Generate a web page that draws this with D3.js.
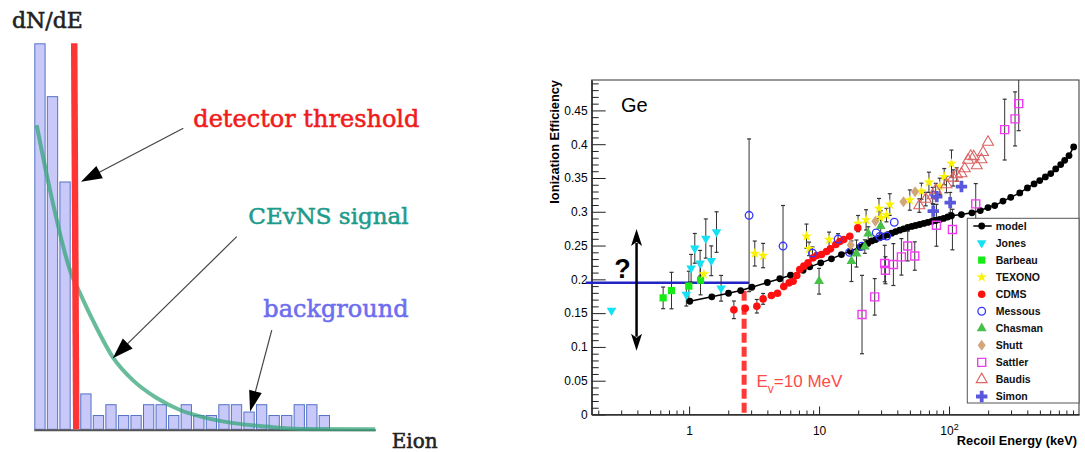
<!DOCTYPE html>
<html><head><meta charset="utf-8">
<script src="https://cdn.jsdelivr.net/npm/d3@7"></script>
<style>body{margin:0;background:#fff}svg{display:block}</style>
</head><body>
<svg id="c" width="1085" height="452"></svg>
<script>
// ================= LEFT PANEL DATA =================
const binStart = [0,1,2,3.66,4.66,5.66,6.66,7.66,8.66,9.66,10.66,11.66,12.66,13.66,14.66,15.66,16.66,17.66,18.66,19.66,20.66,21.66,22.66];
const binCounts = [100,86.3,64.2,9.3,3.7,6.5,3.7,3.7,6.5,6.5,3.7,6.5,3.7,3.7,6.5,6.5,4.6,6.5,3.7,3.7,6.5,6.5,3.7];
const binWidth = 0.9;
const threshold = 3.26;
const signalE = [0.19,1.25,2.92,3.64,4.70,6.29,7.89,9.75,11.61,13.74,15.86,18.52,21.18,27.16];
const signalV = [78.8,62.0,40.5,35.3,28.0,18.5,12.6,8.1,5.0,2.9,1.6,0.7,0.1,0];

// ================= RIGHT PANEL DATA =================
const yTickValues = [0,0.05,0.1,0.15,0.2,0.25,0.3,0.35,0.4,0.45];
const yTickLabels = ["0","0.05","0.1","0.15","0.2","0.25","0.3","0.35","0.4","0.45"];
const xTickValues = [1,10,100];
const xTickLabels = ["1","10","10"];
const legendNames = ["model","Jones","Barbeau","TEXONO","CDMS","Messous","Chasman","Shutt","Sattler","Baudis","Simon"];

const modelE = [1.012,1.495,2.01,2.49,3.04,4.0,4.99,6.03,7.53,8.48,10.3,12.45,14.86,17.4,20.6,22.1,23.7,25.4,27.3,29.3,31.5,33.8,36.2,38.9,41.8,44.8,48.1,51.7,55.4,59.5,63.9,68.6,73.6,79.0,84.8,91.0,97.7,104.4,124.5,150,174,199.5,224.7,260,298.5,350,401,451,498.6,551,606,662,723,776,838,910];
const modelEff = [0.1676,0.1741,0.1794,0.1834,0.1883,0.1953,0.2009,0.2061,0.2135,0.2185,0.2244,0.2303,0.2367,0.2416,0.2475,0.2496,0.2531,0.2568,0.2589,0.2614,0.2638,0.2660,0.2683,0.2707,0.2728,0.2747,0.2768,0.2783,0.2797,0.2812,0.2827,0.2842,0.2857,0.2871,0.2886,0.2901,0.2923,0.2941,0.2959,0.2985,0.3018,0.3062,0.3092,0.3158,0.3214,0.3279,0.3353,0.3412,0.3462,0.3516,0.3565,0.3634,0.3698,0.3762,0.3831,0.3959];

const jonesE = [0.253,0.952,1.036,1.106,1.215,1.344,1.48,1.625,1.762];
const jonesEff = [0.154,0.1775,0.2164,0.2459,0.2238,0.2604,0.2275,0.270,0.1868];
const jonesErr = [0,0.017,0.0205,0.022,0.019,0.029,0.022,0.030,0.019];

const barbE = [0.631,0.732,0.995,1.224];
const barbEff = [0.1726,0.1834,0.190,0.1987];
const barbErr = [0.016,0.027,0.022,0.0216];

const texE = [1.297,3.20,3.71,8.0,8.38,11.94,19.95,23.0,28.9,29.8,33.0,35.0,49.9,61.3,70.0,84.8,91.8,104.4];
const texEff = [0.2078,0.2382,0.2352,0.2638,0.2451,0.2589,0.2825,0.288,0.3047,0.2914,0.2951,0.3107,0.3173,0.3303,0.3436,0.3377,0.352,0.3713];
const texErr = [0,0.0185,0.018,0.018,0.01,0.011,0.012,0.015,0.015,0.01,0.01,0.016,0.015,0.012,0.015,0.012,0.012,0.02];

const cdmsE = [2.21,2.705,3.32,3.71,4.30,4.79,5.35,5.88,6.31,6.74,7.10,7.63,8.23,8.99,9.60,10.43,11.4,12.24,13.45,14.43,15.49,17.23,19.85];
const cdmsEff = [0.1549,0.1571,0.1602,0.1711,0.176,0.1795,0.1893,0.1948,0.1972,0.2056,0.2145,0.2195,0.2244,0.2318,0.2352,0.2367,0.2411,0.2451,0.2515,0.2559,0.2589,0.2638,0.2761];
const cdmsErr = [0.013,0,0.01,0.008,0,0,0,0,0,0,0,0,0,0,0,0,0,0,0,0,0,0,0];

const mesE = [2.894,5.28,8.9,14.0,17.16,21.3,27.5,29.3,33.2,37.9,77.6];
const mesEff = [0.2948,0.2493,0.2389,0.2596,0.2399,0.249,0.2688,0.2633,0.264,0.2845,0.3247];
const mesErr = [0.113,0.06,0.009,0.008,0,0,0,0,0,0,0];

const chaE = [10.0,17.75,19.4,22.5,23.9,29.8];
const chaEff = [0.1972,0.2268,0.2382,0.2485,0.2678,0.2786];
const chaErr = [0.019,0.03,0.02,0.01,0.01,0.01];

const shuE = [17.5,27.1,44.6,54.8];
const shuEff = [0.2507,0.286,0.3148,0.3296];
const shuErr = [0,0,0,0];

const satE = [21.4,26.8,32.0,32.4,37.3,43.0,48.1,54.5,80.0,106.2,160.5,268,322,343.6];
const satEff = [0.1479,0.1741,0.2234,0.2135,0.2219,0.2333,0.2493,0.2345,0.28,0.2737,0.3117,0.4216,0.4374,0.46];
const satErr = [0.058,0.027,0.027,0.02,0.031,0.027,0.022,0.021,0.031,0.03,0.03,0.045,0.04,0.04];

const bauE = [59.0,66.2,74.9,79.0,95.5,107.4,114.6,124.6,132.1,140.0,146.9,154.9,163.4,177.5,182.6,199.5];
const bauEff = [0.3092,0.3188,0.3240,0.3321,0.3402,0.3501,0.3550,0.3565,0.3639,0.3765,0.3824,0.3817,0.3683,0.3772,0.3880,0.4031];
const bauErr = [0.01,0.01,0.012,0.01,0.012,0.012,0.01,0,0,0,0,0,0,0,0,0];

const simE = [75.6,80.4,102.1,124.6];
const simEff = [0.301,0.3225,0.3136,0.3373];
const simErr = [0.01,0,0.015,0];

// ================= DRAWING =================
const svg = d3.select('#c');
const serif = "'DejaVu Serif', serif";
const sans = "'Liberation Sans', Arial, sans-serif";

function arrow(g,x1,y1,x2,y2,hl,hw,lw,lineCol,headCol,notch){
  const dx=x2-x1, dy=y2-y1, L=Math.hypot(dx,dy), ux=dx/L, uy=dy/L;
  const bx=x2-ux*hl, by=y2-uy*hl;
  g.append('line').attr('x1',x1).attr('y1',y1).attr('x2',bx+ux*3).attr('y2',by+uy*3)
    .attr('stroke',lineCol).attr('stroke-width',lw);
  const n = notch||0;
  g.append('path').attr('d',`M${x2},${y2}L${bx-uy*hw/2},${by+ux*hw/2}L${bx+ux*n},${by+uy*n}L${bx+uy*hw/2},${by-ux*hw/2}Z`)
    .attr('fill',headCol);
}

// ---------- LEFT ----------
const xL = d3.scaleLinear().domain([0,27.2]).range([34.3,375.7]);
const yL = d3.scaleLinear().domain([0,100]).range([429.3,43.3]);
const gl = svg.append('g');
gl.selectAll('rect.bin').data(d3.range(binStart.length)).join('rect').attr('class','bin')
  .attr('x',i=>xL(binStart[i])+0.5)
  .attr('y',i=>yL(binCounts[i])+0.5)
  .attr('width',xL(binWidth)-xL(0)-1)
  .attr('height',i=>yL(0)-yL(binCounts[i])-0.5)
  .attr('fill','#c8c8f9').attr('stroke','#5573c6').attr('stroke-width',1);
gl.append('line').attr('x1',xL(0)).attr('x2',xL(27.2)).attr('y1',yL(0)+1).attr('y2',yL(0)+1)
  .attr('stroke','#555').attr('stroke-width',2);
gl.append('path').datum(signalE.map((e,i)=>[e,signalV[i]]))
  .attr('d',d3.line().x(d=>xL(d[0])).y(d=>yL(d[1])).curve(d3.curveMonotoneX))
  .attr('fill','none').attr('stroke','#35a57a').attr('stroke-width',4).attr('stroke-opacity',0.75);
gl.append('line').attr('x1',xL(threshold)-1).attr('x2',xL(threshold)+1)
  .attr('y1',yL(100)).attr('y2',yL(0)).attr('stroke','#ff3535').attr('stroke-width',6.5);

arrow(gl,xL(11.87),yL(78.0),xL(3.72),yL(64.1),21,14,1.2,'#444','#000',0);
arrow(gl,xL(16.13),yL(49.9),xL(6.25),yL(18.4),21,14,1.2,'#444','#000',0);
arrow(gl,xL(18.92),yL(25.7),xL(17.19),yL(4.56),21,13,1.2,'#444','#000',0);

function stext(x,y,t,size,col){
  gl.append('text').attr('x',x).attr('y',y).text(t).attr('font-family',serif).attr('font-size',size)
    .attr('fill',col).attr('stroke',col).attr('stroke-width',0.55);
}
stext(12,28.3,'dN/dE',22,'#222');
stext(391.7,448,'Eion',20,'#222');
stext(193.3,127,'detector threshold',24,'#f01c1c');
stext(248.3,224,'CEvNS signal',23,'#1e9b8c');
stext(263.3,316.7,'background',24,'#6d6df0');

// ---------- RIGHT ----------
const xR = d3.scaleLog().domain([0.178,1000]).range([591.7,1079]);
const yR = d3.scaleLinear().domain([0,0.495]).range([414.5,80]);
const gr = svg.append('g');

gr.append('rect').attr('x',xR.range()[0]).attr('y',yR.range()[1])
  .attr('width',xR.range()[1]-xR.range()[0]).attr('height',yR.range()[0]-yR.range()[1])
  .attr('fill','none').attr('stroke','#333').attr('stroke-width',1);

const yMinor = d3.range(1,50).map(i=>i/100).filter(v=>Math.abs(v*20-Math.round(v*20))>1e-6);
gr.append('g').attr('transform',`translate(${xR.range()[0]},0)`)
  .call(d3.axisLeft(yR).tickValues(yTickValues).tickSize(-14).tickSizeOuter(0).tickPadding(4)
    .tickFormat((d,i)=>yTickLabels[i]));
gr.append('g').attr('transform',`translate(${xR.range()[0]},0)`)
  .call(d3.axisLeft(yR).tickValues(yMinor).tickSize(-7).tickSizeOuter(0).tickFormat(''));
const xMinor = [];
[0.1,1,10,100].forEach(dec=>{for(let k=2;k<=9;k++){const v=dec*k; if(v>=0.178&&v<1000) xMinor.push(v);}});
const xAx = gr.append('g').attr('transform',`translate(0,${yR.range()[0]})`)
  .call(d3.axisBottom(xR).tickValues(xTickValues).tickSize(-8).tickSizeOuter(0).tickPadding(12)
    .tickFormat((d,i)=>xTickLabels[i]));
gr.append('g').attr('transform',`translate(0,${yR.range()[0]})`)
  .call(d3.axisBottom(xR).tickValues(xMinor).tickSize(-4).tickSizeOuter(0).tickFormat(''));
xAx.selectAll('.tick text').filter(d=>d===100).append('tspan').attr('dy','-0.55em').attr('font-size',9).text('2');
gr.selectAll('.domain').attr('stroke','#333');
gr.selectAll('.tick line').attr('stroke','#222');
gr.selectAll('.tick text').attr('font-family',sans).attr('font-size',12).attr('fill','#000');

gr.append('text').attr('x',1077).attr('y',445).attr('text-anchor','end').text('Recoil Energy (keV)')
  .attr('font-family',sans).attr('font-size',12.8).attr('font-weight','bold');
gr.append('text').attr('transform','translate(559,80) rotate(-90)').attr('text-anchor','end')
  .text('Ionization Efficiency').attr('font-family',sans).attr('font-size',12.8).attr('font-weight','bold');
gr.append('text').attr('x',621).attr('y',111.7).text('Ge').attr('font-family',sans).attr('font-size',20);

gr.append('line').attr('x1',xR(0.16)).attr('x2',xR(2.894)).attr('y1',yR(0.195)).attr('y2',yR(0.195))
  .attr('stroke','#2323c8').attr('stroke-width',2.5);
gr.append('line').attr('x1',xR(2.65)).attr('x2',xR(2.65)).attr('y1',yR(0.183)).attr('y2',yR(0))
  .attr('stroke','#ff3838').attr('stroke-width',5).attr('stroke-dasharray','10,4');

const sym = (t,s)=>d3.symbol().type(t).size(s)();
const markers = {
  model:  {d:null, r:3.4, fill:'#000', stroke:'none'},
  Jones:  {d:sym(d3.symbolTriangle,40), rot:180, fill:'#14e2f4', stroke:'none'},
  Barbeau:{d:sym(d3.symbolSquare,52), fill:'#14ec14', stroke:'none'},
  TEXONO: {d:sym(d3.symbolStar,36), fill:'#fbf200', stroke:'none'},
  CDMS:   {d:null, r:3.8, fill:'#ff1010', stroke:'none'},
  Messous:{d:null, r:3.8, fill:'none', stroke:'#3535ff', sw:1.3},
  Chasman:{d:sym(d3.symbolTriangle,42), fill:'#46c046', stroke:'none'},
  Shutt:  {d:'M0,-5.5L4,0L0,5.5L-4,0Z', fill:'#d3a67a', stroke:'none'},
  Sattler:{d:'M-4,-4H4V4H-4Z', fill:'none', stroke:'#f03cf0', sw:1.4},
  Baudis: {d:sym(d3.symbolTriangle,52), fill:'none', stroke:'#dd6262', sw:1.1},
  Simon:  {d:sym(d3.symbolCross,72), fill:'#5858dc', stroke:'none'}
};
function drawMarker(g,name,x,y){
  const m = markers[name];
  if(m.d===null){
    g.append('circle').attr('cx',x).attr('cy',y).attr('r',m.r).attr('fill',m.fill)
      .attr('stroke',m.stroke).attr('stroke-width',m.sw||0);
  } else {
    g.append('path').attr('d',m.d).attr('transform',`translate(${x},${y})`+(m.rot?` rotate(${m.rot})`:''))
      .attr('fill',m.fill).attr('stroke',m.stroke).attr('stroke-width',m.sw||0);
  }
}
const clipTop = yR.domain()[1];
function errorBars(g,E,V,Err){
  E.forEach((e,i)=>{
    if(!Err[i]) return;
    const x=xR(e), hi=Math.min(V[i]+Err[i],clipTop), lo=V[i]-Err[i];
    g.append('line').attr('x1',x).attr('x2',x).attr('y1',yR(hi)).attr('y2',yR(lo)).attr('stroke','#333').attr('stroke-width',1);
    if(V[i]+Err[i]<clipTop) g.append('line').attr('x1',x-2).attr('x2',x+2).attr('y1',yR(hi)).attr('y2',yR(hi)).attr('stroke','#333').attr('stroke-width',1.2);
    g.append('line').attr('x1',x-2).attr('x2',x+2).attr('y1',yR(lo)).attr('y2',yR(lo)).attr('stroke','#333').attr('stroke-width',1.2);
  });
}
const series = [
  ['Jones',jonesE,jonesEff,jonesErr],
  ['Barbeau',barbE,barbEff,barbErr],
  ['TEXONO',texE,texEff,texErr],
  ['CDMS',cdmsE,cdmsEff,cdmsErr],
  ['Messous',mesE,mesEff,mesErr],
  ['Chasman',chaE,chaEff,chaErr],
  ['Shutt',shuE,shuEff,shuErr],
  ['Sattler',satE,satEff,satErr],
  ['Baudis',bauE,bauEff,bauErr],
  ['Simon',simE,simEff,simErr]
];
const gd = gr.append('g');
series.forEach(s=>errorBars(gd,s[1],s[2],s[3]));
gd.append('path').datum(modelE.map((e,i)=>[e,modelEff[i]]))
  .attr('d',d3.line().x(d=>xR(d[0])).y(d=>yR(d[1]))).attr('fill','none').attr('stroke','#000').attr('stroke-width',1.5);
modelE.forEach((e,i)=>drawMarker(gd,'model',xR(e),yR(modelEff[i])));
series.forEach(s=>s[1].forEach((e,i)=>drawMarker(gd,s[0],xR(e),yR(s[2][i]))));

arrow(gr,xR(0.394),yR(0.195),xR(0.394),yR(0.2745),17,11,2.5,'#000','#000',4);
arrow(gr,xR(0.394),yR(0.195),xR(0.394),yR(0.0944),17,11,2.5,'#000','#000',4);
gr.append('text').attr('x',622.5).attr('y',278).attr('text-anchor','middle').text('?')
  .attr('font-family',sans).attr('font-size',27).attr('font-weight','bold');

const ev = gr.append('text').attr('x',xR(3.3)).attr('y',yR(0.041)).attr('font-family',sans).attr('font-size',17).attr('fill','#ff4a4a');
ev.append('tspan').text('E');
ev.append('tspan').attr('dy',6).attr('font-size',12).text('v');
ev.append('tspan').attr('dy',-6).text('=10 MeV');

const lg = gr.append('g');
lg.append('rect').attr('x',967.3).attr('y',218.3).attr('width',111.7).attr('height',184.7)
  .attr('fill','#fff').attr('stroke','#555').attr('stroke-width',1);
legendNames.forEach((n,i)=>{
  const y = 226 + 17.05*i;
  if(n==='model') lg.append('line').attr('x1',973.3).attr('x2',991.7).attr('y1',y).attr('y2',y).attr('stroke','#000').attr('stroke-width',1.5);
  drawMarker(lg,n,981.7,y);
  lg.append('text').attr('x',995.7).attr('y',y).attr('dy','0.36em').text(n)
    .attr('font-family',sans).attr('font-size',10.5).attr('font-weight','bold').attr('fill','#111');
});
</script>
</body></html>
